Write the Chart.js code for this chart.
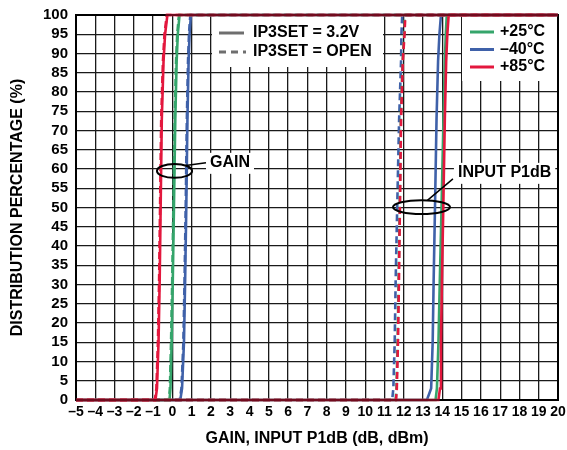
<!DOCTYPE html>
<html>
<head>
<meta charset="utf-8">
<script src="https://cdn.jsdelivr.net/npm/chart.js@4.4.1/dist/chart.umd.min.js"></script>
<style>
body { margin: 0; background: #fff; }
</style>
</head>
<body>
<canvas id="myChart" width="567" height="450"></canvas>
<script>
// axis range
const xMin = -5, xMax = 20;
const yMin = 0, yMax = 100;

// distribution levels (%) shared by all curves
const pctLevels = [0, 3, 15, 31, 50, 73, 88, 95, 100];

// GAIN (dB) at each level, IP3SET = 3.2V
const gain25 = [-0.15, -0.1, -0.04, 0.02, 0.08, 0.15, 0.22, 0.28, 0.37];
const gainM40 = [0.41, 0.5, 0.6, 0.66, 0.72, 0.78, 0.84, 0.89, 0.96];
const gain85 = [-0.88, -0.8, -0.72, -0.66, -0.61, -0.55, -0.46, -0.38, -0.26];
// GAIN (dB), IP3SET = OPEN
const gain25Open = [-0.18, -0.13, -0.07, -0.01, 0.05, 0.12, 0.19, 0.25, 0.34];
const gainM40Open = [0.38, 0.47, 0.57, 0.63, 0.69, 0.75, 0.81, 0.86, 0.93];
const gain85Open = [-0.91, -0.83, -0.75, -0.69, -0.64, -0.58, -0.49, -0.41, -0.29];

// INPUT P1dB (dBm), IP3SET = 3.2V
const p1db25 = [13.65, 13.72, 13.8, 13.87, 13.96, 14.06, 14.13, 14.18, 14.23];
const p1dbM40 = [13.2, 13.42, 13.5, 13.55, 13.62, 13.7, 13.78, 13.85, 13.93];
const p1db85 = [13.8, 13.88, 13.93, 13.98, 14.05, 14.13, 14.2, 14.26, 14.33];
// INPUT P1dB (dBm), IP3SET = OPEN
const p1db25Open = [11.58, 11.62, 11.68, 11.73, 11.79, 11.85, 11.94, 12.02, 12.06];
const p1dbM40Open = [11.4, 11.46, 11.53, 11.58, 11.66, 11.76, 11.86, 11.88, 11.92];
const p1db85Open = [11.6, 11.64, 11.7, 11.75, 11.8, 11.86, 11.95, 12.04, 12.08];

const GREEN = '#35a56b';
const BLUE = '#3f61a9';
const RED = '#e3173d';
const FONT = '"Liberation Sans", Arial, sans-serif';

// CDF curve: flat at 0 from the left edge, rise, flat at 100 to the right edge
function curve(xs) {
    let pts = [{ x: xMin, y: 0 }];
    for (let i = 0; i < xs.length; i++) {
        pts.push({ x: xs[i], y: pctLevels[i] });
    }
    pts.push({ x: xMax, y: 100 });
    return pts;
}

function ds(xs, color, dashed, order) {
    return {
        data: curve(xs),
        borderColor: color,
        borderWidth: 2.6,
        borderDash: dashed ? [7, 4] : [],
        pointRadius: 0,
        tension: 0,
        clip: 4,
        order: order
    };
}

const datasets = [
    ds(gain85, RED, false, 0), ds(gain85Open, RED, true, 1),
    ds(p1db85, RED, false, 0), ds(p1db85Open, RED, true, 1),
    ds(gain25, GREEN, false, 2), ds(gain25Open, GREEN, true, 3),
    ds(p1db25, GREEN, false, 2), ds(p1db25Open, GREEN, true, 3),
    ds(gainM40, BLUE, false, 4), ds(gainM40Open, BLUE, true, 5),
    ds(p1dbM40, BLUE, false, 4), ds(p1dbM40Open, BLUE, true, 5)
];

// callouts, in data units
const gainEllipse = { x: 0.11, y: 59.5, rx: 0.91, ry: 1.8 };
const gainLabel = { x: 1.95, y: 61.6, text: 'GAIN' };
const p1dbEllipse = { x: 12.92, y: 50.1, rx: 1.48, ry: 1.8 };
const p1dbLabel = { x: 14.81, y: 59, text: 'INPUT P1dB' };

const extras = {
    id: 'extras',
    beforeDatasetsDraw(chart) {
        const ctx = chart.ctx, a = chart.chartArea;
        const sx = chart.scales.x, sy = chart.scales.y;
        ctx.save();
        ctx.fillStyle = '#fff';
        // legend boxes
        ctx.fillRect(212, a.top + 1, 171, 51);
        ctx.fillRect(462, a.top + 1, a.right - 462, 65);
        // callout text boxes
        ctx.font = 'bold 16px ' + FONT;
        [gainLabel, p1dbLabel].forEach(l => {
            const px = sx.getPixelForValue(l.x), py = sy.getPixelForValue(l.y);
            const w = ctx.measureText(l.text).width;
            ctx.fillRect(px - 4, py - 10, Math.min(w + 8, a.right - px + 4), 21);
        });
        // frame
        ctx.strokeStyle = '#000';
        ctx.lineWidth = 2;
        ctx.strokeRect(a.left, a.top, a.right - a.left, a.bottom - a.top);
        ctx.restore();
    },
    afterDatasetsDraw(chart) {
        const ctx = chart.ctx, a = chart.chartArea;
        const sx = chart.scales.x, sy = chart.scales.y;
        ctx.save();
        // darken the curves lying on the frame
        ctx.strokeStyle = 'rgba(0,0,0,0.5)';
        ctx.lineWidth = 2;
        ctx.strokeRect(a.left, a.top, a.right - a.left, a.bottom - a.top);

        ctx.font = 'bold 16px ' + FONT;
        ctx.textBaseline = 'middle';
        ctx.fillStyle = '#000';

        // legend 1: line styles
        ctx.strokeStyle = '#6e6e6e';
        ctx.lineWidth = 3;
        ctx.beginPath(); ctx.moveTo(219, 33); ctx.lineTo(244, 33); ctx.stroke();
        ctx.setLineDash([7, 5]);
        ctx.beginPath(); ctx.moveTo(219, 52); ctx.lineTo(246, 52); ctx.stroke();
        ctx.setLineDash([]);
        ctx.fillText('IP3SET = 3.2V', 253, 33);
        ctx.fillText('IP3SET = OPEN', 253, 52);

        // legend 2: temperatures
        const temps = [['+25°C', GREEN], ['–40°C', BLUE], ['+85°C', RED]];
        temps.forEach((t, i) => {
            const y = 32 + i * 17.5;
            ctx.strokeStyle = t[1];
            ctx.beginPath(); ctx.moveTo(470, y); ctx.lineTo(494, y); ctx.stroke();
            ctx.fillText(t[0], 500, y);
        });

        // callouts
        ctx.strokeStyle = '#000';
        ctx.lineWidth = 2;
        [[gainEllipse, gainLabel, -50], [p1dbEllipse, p1dbLabel, -78]].forEach(c => {
            const e = c[0], l = c[1];
            const cx = sx.getPixelForValue(e.x), cy = sy.getPixelForValue(e.y);
            const rx = sx.getPixelForValue(e.x + e.rx) - cx;
            const ry = cy - sy.getPixelForValue(e.y + e.ry);
            ctx.beginPath();
            ctx.ellipse(cx, cy, rx, ry, 0, 0, Math.PI * 2);
            ctx.stroke();
            const ang = c[2] * Math.PI / 180;
            const lx = sx.getPixelForValue(l.x), ly = sy.getPixelForValue(l.y);
            ctx.lineWidth = 1.5;
            ctx.beginPath();
            ctx.moveTo(cx + rx * Math.cos(ang), cy + ry * Math.sin(ang));
            if (l === gainLabel) ctx.lineTo(lx - 4, ly);
            else ctx.lineTo(lx - 5, ly + 6);
            ctx.stroke();
            ctx.lineWidth = 2;
            ctx.fillText(l.text, lx, ly);
        });
        ctx.restore();
    }
};

const config = {
    type: 'line',
    data: { datasets: datasets },
    options: {
        responsive: false,
        animation: false,
        layout: { padding: { top: 15, right: 9, bottom: 0, left: 0 } },
        plugins: { legend: { display: false }, tooltip: { enabled: false } },
        scales: {
            x: {
                type: 'linear',
                min: xMin,
                max: xMax,
                afterFit: s => { s.height = 50; s.paddingLeft = 0; s.paddingRight = 0; },
                grid: { color: '#1a1a1a', lineWidth: 1.3, drawTicks: false },
                border: { color: '#000', width: 2 },
                ticks: {
                    stepSize: 1,
                    autoSkip: false,
                    maxRotation: 0,
                    padding: 4,
                    color: '#000',
                    font: { family: FONT, size: 14, weight: 'bold' },
                    callback: v => v < 0 ? '–' + Math.abs(v) : '' + v
                },
                title: {
                    display: true,
                    text: 'GAIN, INPUT P1dB (dB, dBm)',
                    color: '#000',
                    padding: { top: 0, bottom: 2 },
                    font: { family: FONT, size: 16, weight: 'bold' }
                }
            },
            y: {
                min: yMin,
                max: yMax,
                afterFit: s => { s.width = 76; s.paddingTop = 0; s.paddingBottom = 0; },
                grid: { color: '#1a1a1a', lineWidth: 1.3, drawTicks: false },
                border: { color: '#000', width: 2 },
                ticks: {
                    stepSize: 5,
                    autoSkip: false,
                    padding: 8,
                    color: '#000',
                    font: { family: FONT, size: 15, weight: 'bold' }
                },
                title: {
                    display: true,
                    text: 'DISTRIBUTION PERCENTAGE (%)',
                    color: '#000',
                    padding: { top: 8, bottom: 0 },
                    font: { family: FONT, size: 16, weight: 'bold' }
                }
            }
        }
    },
    plugins: [extras]
};

const myChart = new Chart(document.getElementById('myChart'), config);
</script>
</body>
</html>
